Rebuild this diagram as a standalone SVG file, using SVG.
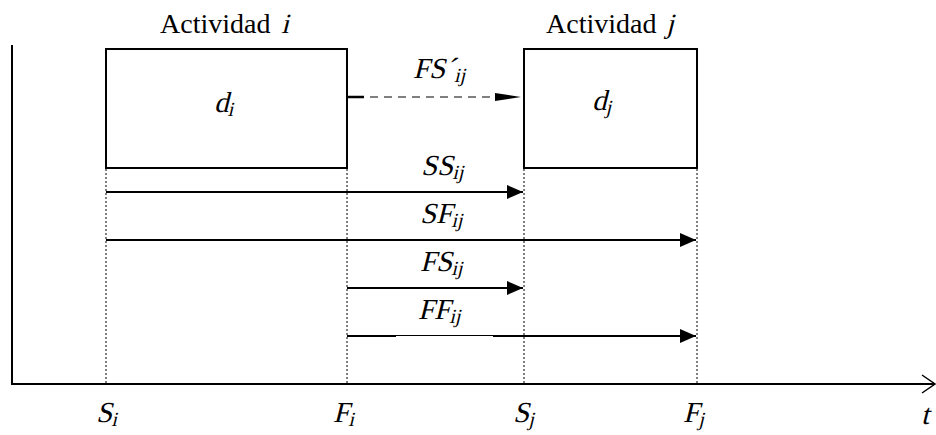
<svg xmlns="http://www.w3.org/2000/svg" width="936" height="435" viewBox="0 0 936 435" font-family="Liberation Serif, Times New Roman, serif">
<defs>
<marker id="ah" viewBox="0 0 16 14" refX="16" refY="7" markerWidth="16" markerHeight="14" markerUnits="userSpaceOnUse" orient="auto">
<path d="M0,0 L16,7 L0,14 z" fill="#000"/>
</marker>
</defs>
<style>
.box{fill:#fff;stroke:#000;stroke-width:2}
.dot{stroke:#000;stroke-width:1;stroke-dasharray:2,2;fill:none}
.arr{stroke:#000;stroke-width:2;fill:none;marker-end:url(#ah)}
.lbl{font-size:29px}
.sub{font-size:20px}
.ttl{font-size:28px}
</style>
<rect width="936" height="435" fill="#fff"/>
<g id="axes">
<line x1="12" y1="45" x2="12" y2="385" stroke="#000" stroke-width="2"/>
<line x1="11" y1="384" x2="934" y2="384" stroke="#000" stroke-width="2"/>
<polyline points="922,375 935,384 922,393" fill="none" stroke="#000" stroke-width="1.5"/>
</g>
<g id="guides">
<line class="dot" x1="106" y1="169" x2="106" y2="383"/>
<line class="dot" x1="347" y1="169" x2="347" y2="383"/>
<line class="dot" x1="524" y1="169" x2="524" y2="383"/>
<line class="dot" x1="697" y1="169" x2="697" y2="383"/>
</g>
<g id="activity-i">
<rect class="box" x="106" y="49" width="241" height="119"/>
<text class="ttl" x="160" y="33">Actividad</text>
<text class="ttl" transform="translate(281,33) skewX(-14)">i</text>
<text class="lbl" transform="translate(214,112) skewX(-14)">d<tspan class="sub" dy="4">i</tspan></text>
</g>
<g id="activity-j">
<rect class="box" x="524" y="49" width="173" height="119"/>
<text class="ttl" x="546" y="33">Actividad</text>
<text class="ttl" transform="translate(666,33) skewX(-14)">j</text>
<text class="lbl" transform="translate(592,110) skewX(-14)">d<tspan class="sub" dy="4">j</tspan></text>
</g>
<g id="connectors">
<line x1="348" y1="97" x2="364" y2="97" stroke="#000" stroke-width="2.5"/>
<line x1="370" y1="97" x2="496" y2="97" stroke="#000" stroke-width="1" stroke-dasharray="8,6"/>
<path d="M495,93 L521,97 L495,101 z" fill="#000"/>
<line class="arr" x1="106" y1="192" x2="523" y2="192"/>
<line class="arr" x1="106" y1="240" x2="696" y2="240"/>
<line class="arr" x1="347" y1="288" x2="523" y2="288"/>
<line class="arr" x1="347" y1="336" x2="696" y2="336"/>
<rect x="396" y="336" width="97" height="1.2" fill="#fff"/>
</g>
<g id="labels">
<text class="lbl" transform="translate(413,78) skewX(-14)">FS´<tspan class="sub" dy="4">ij</tspan></text>
<text class="lbl" transform="translate(421,175) skewX(-14)">SS<tspan class="sub" dy="4">ij</tspan></text>
<text class="lbl" transform="translate(420,223) skewX(-14)">SF<tspan class="sub" dy="4">ij</tspan></text>
<text class="lbl" transform="translate(420,271) skewX(-14)">FS<tspan class="sub" dy="4">ij</tspan></text>
<text class="lbl" transform="translate(418,319) skewX(-14)">FF<tspan class="sub" dy="4">ij</tspan></text>
<text class="lbl" transform="translate(96,422) skewX(-14)">S<tspan class="sub" dy="4">i</tspan></text>
<text class="lbl" transform="translate(333,422) skewX(-14)">F<tspan class="sub" dy="4">i</tspan></text>
<text class="lbl" transform="translate(513,422) skewX(-14)">S<tspan class="sub" dy="4">j</tspan></text>
<text class="lbl" transform="translate(683,422) skewX(-14)">F<tspan class="sub" dy="4">j</tspan></text>
<text class="lbl" transform="translate(921,424) skewX(-14)">t</text>
</g>
</svg>
